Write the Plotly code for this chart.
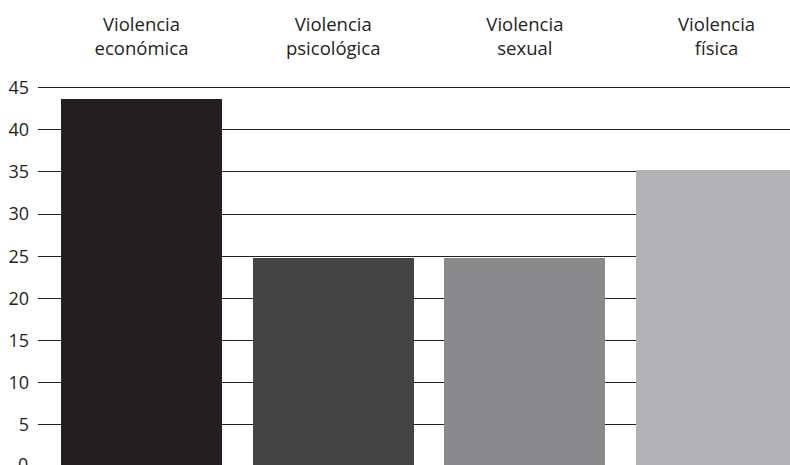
import plotly.graph_objects as go

categories = ["Violencia<br>económica", "Violencia<br>psicológica", "Violencia<br>sexual", "Violencia<br>física"]
values = [43.6, 24.8, 24.8, 35.2]
colors = ["#231f20", "#444444", "#8a8a8c", "#b3b3b5"]
y_ticks = [5, 10, 15, 20, 25, 30, 35, 40, 45]

FONT = "Open Sans"
x_pos = list(range(len(categories)))

fig = go.Figure(go.Bar(
    x=x_pos, y=values, marker=dict(color=colors, line=dict(width=0)),
    width=0.84, showlegend=False,
))

fig.update_layout(
    width=790, height=465,
    margin=dict(l=38, r=0, t=70, b=0),
    paper_bgcolor="white", plot_bgcolor="white",
    font=dict(family=FONT, size=18, color="#231f20"),
    bargap=0,
    xaxis=dict(
        side="top", range=[-0.54, 3.383],
        tickmode="array", tickvals=x_pos, ticktext=categories,
        showgrid=False, zeroline=False, showline=False, ticks="",
        ticklabelstandoff=10,
        tickfont=dict(size=18.5),
    ),
    yaxis=dict(
        range=[0.237, 47.09],
        tickmode="array", tickvals=y_ticks, ticktext=[str(v) for v in y_ticks],
        showgrid=True, gridcolor="#231f20", gridwidth=1,
        zeroline=False, showline=False, ticks="",
        ticklabelstandoff=8,
    ),
    annotations=[dict(
        text="0", xref="paper", yref="paper", x=0, y=-0.005,
        xanchor="right", yanchor="middle", xshift=-8, yshift=3,
        showarrow=False, font=dict(family=FONT, size=18, color="#231f20"),
    )],
)

fig.write_html("out.html")
